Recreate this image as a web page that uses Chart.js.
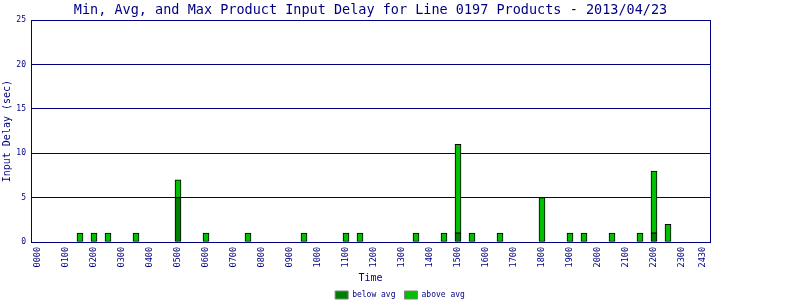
<!DOCTYPE html>
<html>
<head>
    <meta charset="UTF-8" />
    <title>Input delay - Line 0197</title>
    <style>
        body { margin: 0; background: #ffffff; }
        canvas#delayChart { display: block; }
    </style>
</head>
<body>
    <canvas id="delayChart" width="800" height="300"></canvas>
    <script src="https://cdn.jsdelivr.net/npm/chart.js@4.4.1/dist/chart.umd.min.js"></script>
    <script>
        // half-hour slots that had product input
        var slotTimes = ['0130', '0200', '0230', '0330', '0500', '0600', '0730', '0930', '1100', '1130',
            '1330', '1430', '1500', '1530', '1630', '1800', '1900', '1930', '2030', '2130', '2200', '2230'];
        var belowAvg = [null, null, null, null, 5, null, null, null, null, null,
            null, null, 1, null, null, null, null, null, null, null, 1, null];
        var aboveAvg = [1, 1, 1, 1, 2, 1, 1, 1, 1, 1,
            1, 1, 10, 1, 1, 5, 1, 1, 1, 1, 7, 2];

        // x tick labels and where they sit (minutes after midnight)
        var xTickLabels = ['0000', '0100', '0200', '0300', '0400', '0500', '0600', '0700', '0800', '0900',
            '1000', '1100', '1200', '1300', '1400', '1500', '1600', '1700', '1800', '1900',
            '2000', '2100', '2200', '2300', '2430'];
        var xTickMinutes = [0, 60, 120, 180, 240, 300, 360, 420, 480, 540,
            600, 660, 720, 780, 840, 900, 960, 1020, 1080, 1140,
            1200, 1260, 1320, 1380, 1425];
        var yTicks = [0, 5, 10, 15, 20, 25];

        var navy = '#000080';
        var mono = 'DejaVu Sans Mono';

        function toMinutes(t) {
            return parseInt(t.substring(0, 2), 10) * 60 + parseInt(t.substring(2), 10);
        }

        function points(values) {
            return slotTimes.map(function (t, i) {
                return { x: toMinutes(t), y: values[i] };
            });
        }

        var ctx = document.getElementById('delayChart').getContext('2d');
        var chart = new Chart(ctx, {
            type: 'bar',
            data: {
                datasets: [{
                    label: 'below avg',
                    data: points(belowAvg),
                    backgroundColor: '#008000',
                    borderColor: '#000000',
                    borderWidth: 1,
                    borderSkipped: false,
                    barThickness: 6,
                    stack: 'delay'
                }, {
                    label: 'above avg',
                    data: points(aboveAvg),
                    backgroundColor: '#00c000',
                    borderColor: '#000000',
                    borderWidth: 1,
                    borderSkipped: false,
                    barThickness: 6,
                    stack: 'delay'
                }]
            },
            options: {
                responsive: false,
                animation: false,
                layout: { padding: { bottom: -9 } },
                scales: {
                    x: {
                        type: 'linear',
                        min: -15,
                        max: 1440,
                        offset: false,
                        stacked: true,
                        afterBuildTicks: function (scale) {
                            scale.ticks = xTickMinutes.map(function (v) { return { value: v }; });
                        },
                        afterFit: function (scale) { scale.height = 40; },
                        ticks: {
                            autoSkip: false,
                            minRotation: 90,
                            maxRotation: 90,
                            padding: 5,
                            color: navy,
                            font: { family: mono, size: 8.5 },
                            callback: function (value, index) { return xTickLabels[index]; }
                        },
                        grid: { display: false, drawTicks: false, tickLength: 0 },
                        border: { color: navy, width: 1 },
                        title: {
                            display: true,
                            text: 'Time',
                            color: navy,
                            font: { family: mono, size: 10, lineHeight: 0.8 },
                            padding: { top: 0, bottom: 0 }
                        }
                    },
                    y: {
                        min: 0,
                        max: 25,
                        stacked: true,
                        afterBuildTicks: function (scale) {
                            scale.ticks = yTicks.map(function (v) { return { value: v }; });
                        },
                        afterFit: function (scale) { scale.width = 31; },
                        ticks: {
                            padding: 5,
                            color: navy,
                            font: { family: mono, size: 8 }
                        },
                        grid: { color: navy, lineWidth: 1, drawTicks: false, tickLength: 0 },
                        border: { color: navy, width: 1 },
                        title: {
                            display: true,
                            text: 'Input Delay (sec)',
                            color: navy,
                            font: { family: mono, size: 10 },
                            padding: { top: 1.5, bottom: 0 }
                        }
                    },
                    // empty axis on the right: gives the frame its right edge and the margin
                    frameRight: {
                        type: 'linear',
                        position: 'right',
                        afterFit: function (scale) { scale.width = 90; },
                        ticks: { display: false },
                        grid: { display: false, drawTicks: false, tickLength: 0 },
                        border: { color: navy, width: 1 }
                    }
                },
                plugins: {
                    title: {
                        display: true,
                        text: 'Min, Avg, and Max Product Input Delay for Line 0197 Products - 2013/04/23',
                        color: navy,
                        font: { family: mono, size: 13.5, weight: 'normal' },
                        padding: { top: 2, bottom: 2 }
                    },
                    legend: {
                        position: 'bottom',
                        labels: {
                            boxWidth: 13,
                            boxHeight: 8,
                            padding: 9,
                            color: navy,
                            font: { family: mono, size: 8 },
                            generateLabels: function (chart) {
                                var items = Chart.defaults.plugins.legend.labels.generateLabels(chart);
                                items.forEach(function (item) {
                                    item.strokeStyle = '#808080';
                                    item.lineWidth = 1;
                                });
                                return items;
                            }
                        }
                    },
                    tooltip: { enabled: false }
                }
            },
            plugins: [{
                id: 'titleOverPlot',
                afterLayout: function (chart) {
                    chart.titleBlock.left = chart.chartArea.left;
                    chart.titleBlock.right = chart.chartArea.right;
                }
            }]
        });
    </script>
</body>
</html>
